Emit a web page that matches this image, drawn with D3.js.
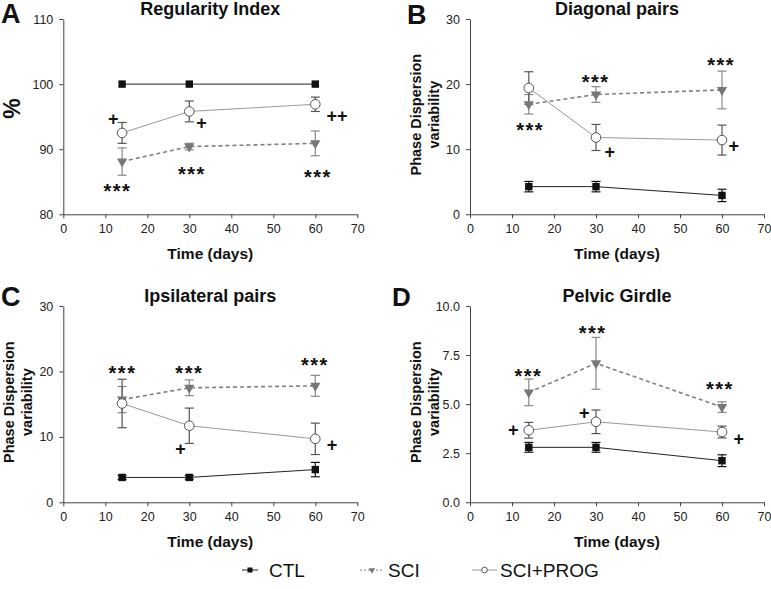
<!DOCTYPE html>
<html><head><meta charset="utf-8">
<script src="https://cdn.jsdelivr.net/npm/d3@7/dist/d3.min.js"></script>
<style>
html,body{margin:0;padding:0;background:#fff;}
svg{display:block;font-family:Arial,"Liberation Sans",sans-serif;}
</style></head>
<body>
<script>
// ---------- data ----------
const days = [14, 30, 60];
const seriesNames = ["CTL", "SCI", "SCI+PROG"];
const xTicks = [0, 10, 20, 30, 40, 50, 60, 70];

// A: Regularity Index (%)
const ctlA = [100, 100, 100],   ctlAErr = [0, 0, 0];
const sciA = [88.1, 90.4, 90.9], sciAErr = [2.1, 0.5, 1.9];
const progA = [92.5, 95.8, 96.9], progAErr = [1.6, 1.6, 1.1];
const yTicksA = [80, 90, 100, 110];
const annotA = [["+", 11.9, 94.6], ["***", 12.9, 84.25], ["+", 32.9, 94.0], ["***", 30.6, 86.8], ["++", 65.2, 95.1], ["***", 60.6, 86.3]];

// B: Diagonal pairs
const ctlB = [4.25, 4.25, 2.9],  ctlBErr = [0.8, 0.8, 0.95];
const sciB = [16.9, 18.4, 19.1], sciBErr = [1.5, 1.2, 2.9];
const progB = [19.4, 11.8, 11.4], progBErr = [2.5, 2.0, 2.3];
const yTicksB = [0, 10, 20, 30];
const annotB = [["***", 14.3, 13.6], ["***", 29.9, 20.9], ["***", 59.8, 23.55], ["+", 33.3, 9.5], ["+", 62.8, 10.5]];

// C: Ipsilateral pairs
const ctlC = [3.8, 3.8, 5.0],    ctlCErr = [0.3, 0.3, 1.1];
const sciC = [15.7, 17.5, 17.8], sciCErr = [2.0, 1.2, 1.6];
const progC = [15.1, 11.7, 9.7], progCErr = [3.7, 2.7, 2.4];
const yTicksC = [0, 10, 20, 30];
const annotC = [["***", 14.1, 20.3], ["***", 30.0, 20.4], ["***", 59.9, 21.65], ["+", 27.9, 8.15], ["+", 64.0, 8.75]];

// D: Pelvic Girdle
const ctlD = [2.8, 2.8, 2.12],   ctlDErr = [0.25, 0.25, 0.3];
const sciD = [5.6, 7.08, 4.85],  sciDErr = [0.68, 1.32, 0.27];
const progD = [3.67, 4.1, 3.58], progDErr = [0.4, 0.6, 0.3];
const yTicksD = [0, 2.5, 5, 7.5, 10];
const annotD = [["***", 13.9, 6.66], ["***", 29.2, 8.81], ["***", 59.5, 5.98], ["+", 10.3, 3.68], ["+", 27.2, 4.57], ["+", 64.0, 3.23]];

// ---------- layout / style ----------
const W = 771, H = 589;
const svg = d3.select("body").append("svg").attr("width", W).attr("height", H);

const style = {
  "CTL":      {line: "#222", dash: null, err: "#111", lw: 1},
  "SCI":      {line: "#808080", dash: "4,3", err: "#888", lw: 1.6},
  "SCI+PROG": {line: "#999", dash: null, err: "#555", lw: 1}
};

const panels = [
  {letter: "A", lsize: 27, lx: 1, ly: 23, title: "Regularity Index", ylab: ["%"], domain: [80, 110], ticks: yTicksA, fmt: d3.format("d"),
   L: 63.3, R: 357.3, T: 19, B: 214.3, ctl: [ctlA, ctlAErr], sci: [sciA, sciAErr], prog: [progA, progAErr], annot: annotA},
  {letter: "B", lsize: 27, lx: 407, ly: 24, title: "Diagonal pairs", ylab: ["Phase Dispersion", "variability"], domain: [0, 30], ticks: yTicksB, fmt: d3.format("d"),
   L: 470, R: 764, T: 19, B: 214.3, ctl: [ctlB, ctlBErr], sci: [sciB, sciBErr], prog: [progB, progBErr], annot: annotB},
  {letter: "C", lsize: 27, lx: 1, ly: 306, title: "Ipsilateral pairs", ylab: ["Phase Dispersion", "variability"], domain: [0, 30], ticks: yTicksC, fmt: d3.format("d"),
   L: 63.3, R: 357.3, T: 306, B: 502.3, ctl: [ctlC, ctlCErr], sci: [sciC, sciCErr], prog: [progC, progCErr], annot: annotC},
  {letter: "D", lsize: 26, lx: 392, ly: 306, title: "Pelvic Girdle", ylab: ["Phase Dispersion", "variability"], domain: [0, 10], ticks: yTicksD, fmt: d3.format(".1f"),
   L: 470, R: 764, T: 306, B: 502.3, ctl: [ctlD, ctlDErr], sci: [sciD, sciDErr], prog: [progD, progDErr], annot: annotD}
];

function drawMarker(g, name, cx, cy) {
  if (name === "CTL") {
    g.append("rect").attr("x", cx - 3.7).attr("y", cy - 3.7).attr("width", 7.4).attr("height", 7.4).attr("fill", "#111");
  } else if (name === "SCI") {
    g.append("path").attr("d", d3.symbol(d3.symbolTriangle, 46)())
      .attr("transform", `translate(${cx},${cy}) rotate(180)`).attr("fill", "#777");
  } else {
    g.append("circle").attr("cx", cx).attr("cy", cy).attr("r", 4.8).attr("fill", "#fff").attr("stroke", "#555").attr("stroke-width", 1);
  }
}

panels.forEach(p => {
  const g = svg.append("g");
  const x = d3.scaleLinear().domain([0, 70]).range([p.L, p.R]);
  const y = d3.scaleLinear().domain(p.domain).range([p.B, p.T]);

  const xa = g.append("g").attr("transform", `translate(0,${p.B})`)
    .call(d3.axisBottom(x).tickValues(xTicks).tickSize(4).tickSizeOuter(0).tickPadding(6).tickFormat(d3.format("d")));
  const ya = g.append("g").attr("transform", `translate(${p.L},0)`)
    .call(d3.axisLeft(y).tickValues(p.ticks).tickSize(4).tickSizeOuter(0).tickPadding(6).tickFormat(p.fmt));
  [xa, ya].forEach(a => {
    a.select(".domain").attr("stroke", "#444");
    a.selectAll(".tick line").attr("stroke", "#444");
    a.selectAll(".tick text").attr("font-size", 12.5).attr("fill", "#222").attr("font-family", "Arial, 'Liberation Sans', sans-serif");
  });

  // title
  g.append("text").attr("x", (p.L + p.R) / 2).attr("y", p.T - 4.5).attr("text-anchor", "middle")
    .attr("font-size", 18).attr("font-weight", "bold").attr("fill", "#111").text(p.title);
  // panel letter
  g.append("text").attr("x", p.lx).attr("y", p.ly).attr("font-size", p.lsize).attr("font-weight", "bold").attr("fill", "#111").text(p.letter);
  // x label
  g.append("text").attr("x", (p.L + p.R) / 2).attr("y", p.B + 45).attr("text-anchor", "middle")
    .attr("font-size", 15.5).attr("font-weight", "bold").attr("fill", "#111").text("Time (days)");
  // y label
  const cy = (p.T + p.B) / 2;
  if (p.ylab.length === 1) {
    g.append("text").attr("transform", `translate(${20},${cy - 8}) rotate(-90)`).attr("text-anchor", "middle")
      .attr("font-size", 23).attr("font-weight", "bold").attr("fill", "#111").text(p.ylab[0]);
  } else {
    p.ylab.forEach((t, i) => {
      g.append("text").attr("transform", `translate(${p.L - 49 + i * 18},${cy - 2}) rotate(-90)`).attr("text-anchor", "middle")
        .attr("font-size", 14.5).attr("font-weight", "bold").attr("fill", "#111").text(t);
    });
  }

  const sets = [["SCI", p.sci], ["SCI+PROG", p.prog], ["CTL", p.ctl]];
  const line = d3.line().x((d, i) => x(days[i])).y(d => y(d));
  // error bars first
  sets.forEach(([name, [vals, errs]]) => {
    const st = style[name];
    vals.forEach((v, i) => {
      const e = errs[i];
      if (!e) return;
      const cx = x(days[i]);
      g.append("line").attr("x1", cx).attr("x2", cx).attr("y1", y(v - e)).attr("y2", y(v + e)).attr("stroke", st.err).attr("stroke-width", 1.2);
      [v - e, v + e].forEach(b => g.append("line").attr("x1", cx - 4.5).attr("x2", cx + 4.5).attr("y1", y(b)).attr("y2", y(b)).attr("stroke", st.err).attr("stroke-width", 1.2));
    });
  });
  sets.forEach(([name, [vals]]) => {
    const st = style[name];
    g.append("path").attr("d", line(vals)).attr("fill", "none").attr("stroke", st.line).attr("stroke-width", st.lw)
      .attr("stroke-dasharray", st.dash);
  });
  sets.forEach(([name, [vals]]) => {
    vals.forEach((v, i) => drawMarker(g, name, x(days[i]), y(v)));
  });

  // annotations (data coords are glyph centres)
  p.annot.forEach(([t, ax, ay]) => {
    const star = t.includes("*");
    g.append("text").attr("x", x(ax)).attr("y", y(ay) + (star ? 11 : 6)).attr("text-anchor", "middle")
      .attr("font-size", star ? 20 : 18).attr("font-weight", "bold").attr("fill", "#111")
      .attr("letter-spacing", star ? 1.5 : 0).text(t);
  });
});

// legend
const legend = [
  {name: seriesNames[0], x1: 242, x2: 258, tx: 269},
  {name: seriesNames[1], x1: 360, x2: 384, tx: 388},
  {name: seriesNames[2], x1: 472, x2: 497, tx: 500}
];
const lg = svg.append("g");
legend.forEach(l => {
  const st = style[l.name];
  lg.append("line").attr("x1", l.x1).attr("x2", l.x2).attr("y1", 570).attr("y2", 570)
    .attr("stroke", st.line).attr("stroke-width", l.name === "SCI" ? 1.2 : 1).attr("stroke-dasharray", l.name === "SCI" ? "2,2" : null);
  const g2 = lg.append("g");
  if (l.name === "CTL") g2.append("rect").attr("x", (l.x1 + l.x2) / 2 - 2.5).attr("y", 567.5).attr("width", 5).attr("height", 5).attr("fill", "#111");
  else if (l.name === "SCI") g2.append("path").attr("d", d3.symbol(d3.symbolTriangle, 18)()).attr("transform", `translate(${(l.x1 + l.x2) / 2},570) rotate(180)`).attr("fill", "#777");
  else g2.append("circle").attr("cx", (l.x1 + l.x2) / 2).attr("cy", 570).attr("r", 2.8).attr("fill", "#fff").attr("stroke", "#555");
  lg.append("text").attr("x", l.tx).attr("y", 577).attr("font-size", 19).attr("fill", "#111").text(l.name);
});
</script>
</body></html>
